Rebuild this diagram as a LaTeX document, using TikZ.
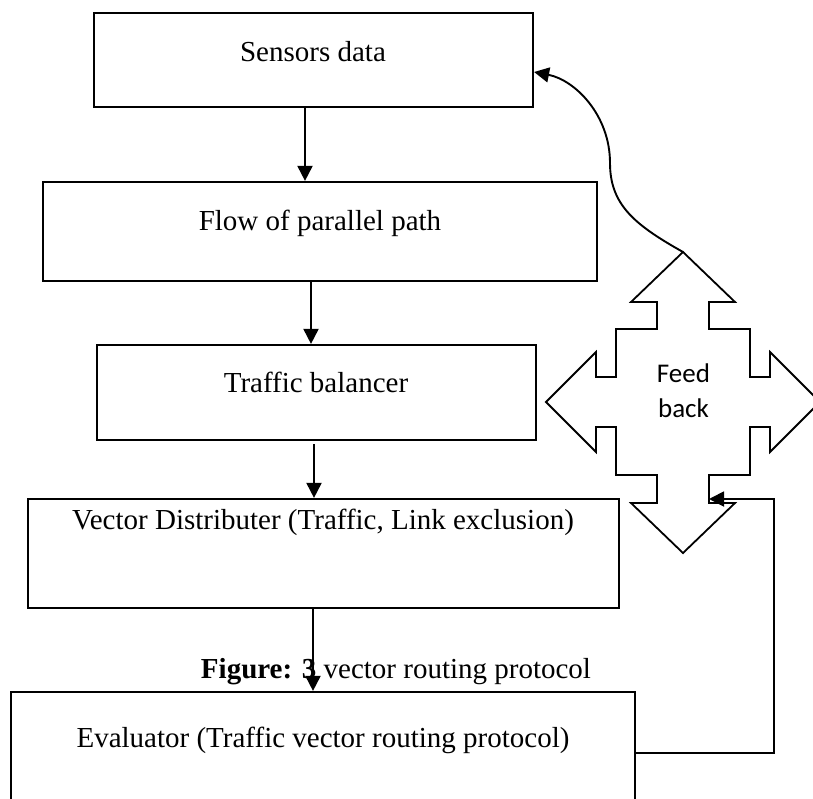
\documentclass[tikz,border=0pt]{standalone}
\usepackage{fontspec}
\setmainfont{Liberation Serif}
\newfontfamily\fbfont{Carlito}
\usetikzlibrary{arrows.meta}
\tikzset{
  box/.style={draw=black, line width=2.2pt, inner sep=0pt, fill=none},
  txt/.style={font=\fontsize{29}{34}\selectfont, inner sep=0pt, anchor=base},
  arr/.style={draw=black, line width=1.9pt, -{Triangle[length=15pt,width=15pt]}},
  crossline/.style={draw=black, line width=1.8pt, line join=miter},
}
\begin{document}
\begin{tikzpicture}[x=1pt,y=-1pt]
\useasboundingbox (0,0) rectangle (813,798);
\clip (0,0) rectangle (813,798);
% boxes
\node[box, minimum width=439pt, minimum height=94pt] (sensors) at (313.5,60) {};
\node[box, minimum width=554pt, minimum height=99pt] (flow) at (320,231.5) {};
\node[box, minimum width=439pt, minimum height=95pt] (traffic) at (316.5,392.5) {};
\node[box, minimum width=591pt, minimum height=109pt] (vector) at (323.5,553.5) {};
\node[box, minimum width=624pt, minimum height=140pt] (evaluator) at (323,762) {};
% texts
\node[txt] (sensorsT) at (313,61) {Sensors data};
\node[txt] (flowT) at (320,230) {Flow of parallel path};
\node[txt] (trafficT) at (316,392) {Traffic balancer};
\node[txt] (vectorT) at (323,529) {Vector Distributer (Traffic, Link exclusion)};
\node[txt] (evaluatorT) at (323,747) {Evaluator (Traffic vector routing protocol)};
\node[txt] (caption) at (396,678) {\textbf{Figure: 3} vector routing protocol};
% feedback cross
\coordinate (fc) at (683,402);
\begin{scope}[shift={(fc)}]
\draw[crossline] (0,-150) -- (52,-100) -- (26,-100) -- (26,-73) -- (67,-73) -- (67,-25)
  -- (87,-25) -- (87,-50) -- (137,0) -- (87,50) -- (87,25) -- (67,25) -- (67,73)
  -- (26,73) -- (26,101) -- (52,101) -- (0,151) -- (-52,101) -- (-26,101) -- (-26,73)
  -- (-67,73) -- (-67,25) -- (-87,25) -- (-87,50) -- (-137,0) -- (-87,-50) -- (-87,-25)
  -- (-67,-25) -- (-67,-73) -- (-26,-73) -- (-26,-100) -- (-52,-100) -- cycle;
\end{scope}
\coordinate (crosstop) at (683,252);
\node[font=\fbfont\fontsize{27}{35}\selectfont, align=center, inner sep=0pt, anchor=base] (fb) at (683.5,417) {Feed\\back};
% vertical arrows
\draw[arr] ([xshift=-8.5pt]sensors.south) -- ([xshift=-15pt]flow.north);
\draw[arr] ([xshift=-9pt]flow.south) -- ([xshift=-5.5pt]traffic.north);
\draw[arr] ([xshift=-2.5pt,yshift=-3pt]traffic.south) -- ([xshift=-9.5pt]vector.north);
\draw[arr] ([xshift=-10.5pt]vector.south) -- ([xshift=-10pt]evaluator.north);
% feedback curve to sensors
\draw[arr] (crosstop) .. controls (635,225) and (610,205) .. (610,163)
  .. controls (610,115) and (575,80) .. ([yshift=-12pt]sensors.east);
% return line from evaluator
\coordinate (turn) at (774,499);
\coordinate (fbin) at (709,499);
\draw[arr] ([yshift=-62pt]evaluator.north east) -| (turn) -- (fbin);
\end{tikzpicture}
\end{document}
